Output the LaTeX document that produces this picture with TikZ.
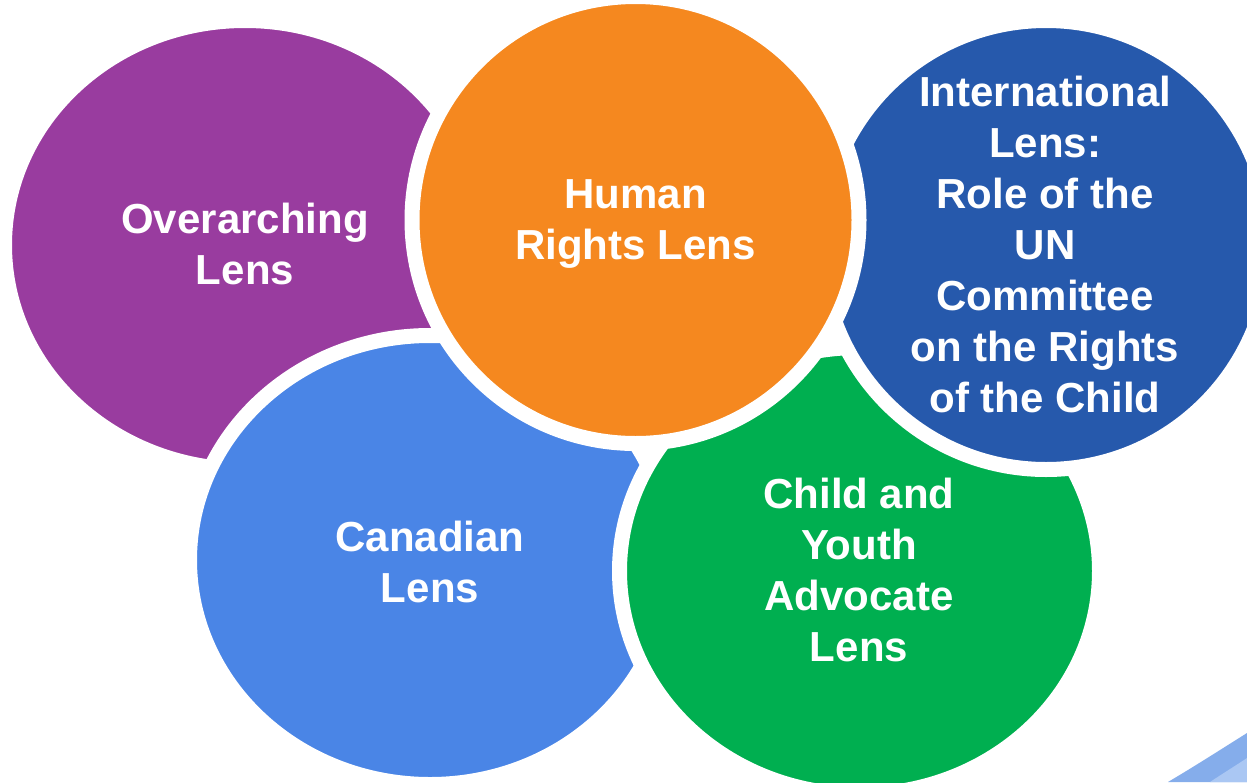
\documentclass[tikz,border=0pt]{standalone}
\usepackage{fontspec}
\setmainfont{Liberation Sans}
\usetikzlibrary{shapes.geometric}
\definecolor{lpurple}{HTML}{993C9F}
\definecolor{lorange}{HTML}{F5881F}
\definecolor{ldblue}{HTML}{2659AC}
\definecolor{llblue}{HTML}{4A85E6}
\definecolor{lgreen}{HTML}{00AF50}
\definecolor{banddark}{HTML}{85ADEB}
\definecolor{bandlight}{HTML}{AAC7F3}
\begin{document}
\begin{tikzpicture}[x=1pt,y=-1pt,
  blob/.style={draw=white,line width=15pt,inner sep=0pt,outer sep=0pt},
  ellblob/.style={blob,ellipse},
  circblob/.style={blob,circle},
  lenstext/.style={text=white,align=center,inner sep=0pt,
    font=\fontsize{42}{51}\selectfont\bfseries}]
\useasboundingbox (0,0) rectangle (1247,782);
\clip (0,0) rectangle (1247,782);
\fill[white] (0,0) rectangle (1247,782);
% decoration bottom right
\fill[banddark] (1168,782) .. controls (1195,766) and (1220,750) .. (1247,733) -- (1247,782) -- cycle;
\fill[bandlight] (1210,782) .. controls (1222,774) and (1235,766) .. (1247,758) -- (1247,782) -- cycle;
% shapes, bottom to top
\node[ellblob,fill=lpurple,minimum width=481pt,minimum height=449pt] (purple) at (245,245) {};
\node[ellblob,fill=llblue,minimum width=481pt,minimum height=449pt] (lblue) at (430,560) {};
\node[ellblob,fill=lgreen,minimum width=480pt,minimum height=447pt] (green) at (859.5,571) {};
\node[circblob,fill=ldblue,minimum size=449pt] (dblue) at (1046,245) {};
\node[circblob,fill=lorange,minimum size=447pt] (orange) at (635.5,220) {};
% texts
\node[lenstext] (tover) at (245,243.75) {Overarching\\Lens};
\node[lenstext] (thuman) at (635.5,224.4) {Human\\Rights Lens};
\node[lenstext] (tintl) at (1045,244.75) {International\\Lens:\\Role of the\\UN\\Committee\\on the Rights\\of the Child};
\node[lenstext] (tcan) at (430,562.25) {Canadian\\Lens};
\node[lenstext] (tchild) at (859,570.25) {Child and\\Youth\\Advocate\\Lens};
\end{tikzpicture}
\end{document}
